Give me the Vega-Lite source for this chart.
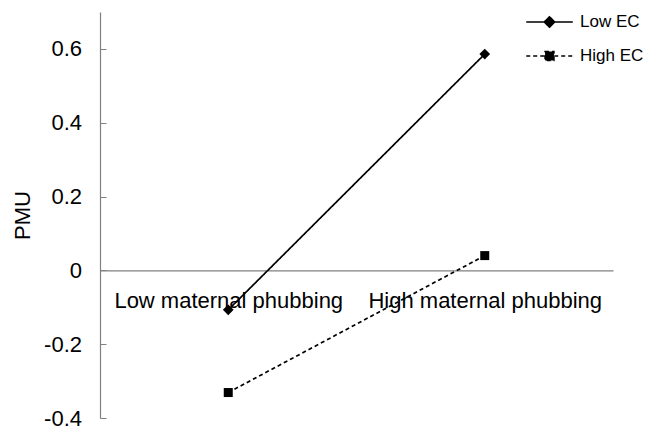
{
  "$schema": "https://vega.github.io/schema/vega-lite/v6.json",
  "width": 513,
  "height": 406,
  "autosize": "none",
  "padding": {"left": 100, "top": 12, "right": 33, "bottom": 12},
  "background": "white",
  "config": {
    "font": "Liberation Sans",
    "view": {"stroke": null}
  },
  "data": {
    "values": [
      {"phubbing": "Low maternal phubbing", "group": "Low EC", "PMU": -0.107},
      {"phubbing": "High maternal phubbing", "group": "Low EC", "PMU": 0.586},
      {"phubbing": "Low maternal phubbing", "group": "High EC", "PMU": -0.331},
      {"phubbing": "High maternal phubbing", "group": "High EC", "PMU": 0.04}
    ]
  },
  "encoding": {
    "x": {
      "field": "phubbing",
      "type": "nominal",
      "sort": ["Low maternal phubbing", "High maternal phubbing"],
      "scale": {"type": "point", "padding": 0.5},
      "axis": {
        "title": null,
        "orient": "bottom",
        "offset": -147.6,
        "ticks": false,
        "grid": false,
        "domainColor": "#808080",
        "domainWidth": 1.2,
        "labelAngle": 0,
        "labelLimit": 400,
        "labelFontSize": 22,
        "labelColor": "#000000",
        "labelBaseline": "alphabetic",
        "labelPadding": 37
      }
    },
    "y": {
      "field": "PMU",
      "type": "quantitative",
      "scale": {"domain": [-0.4, 0.7], "nice": false, "zero": false},
      "axis": {
        "title": "PMU",
        "values": [-0.4, -0.2, 0, 0.2, 0.4, 0.6],
        "labelExpr": "datum.value + ''",
        "grid": false,
        "domainColor": "#808080",
        "domainWidth": 1.2,
        "tickColor": "#808080",
        "tickSize": -6,
        "labelPadding": 24.5,
        "labelFontSize": 22,
        "labelColor": "#000000",
        "labelBaseline": "middle",
        "titleFontSize": 22,
        "titleFontWeight": "normal",
        "titleColor": "#000000",
        "titleAngle": -90,
        "titleBaseline": "middle",
        "titleAlign": "center",
        "titleX": -78,
        "titleY": 203
      }
    }
  },
  "layer": [
    {
      "mark": {"type": "line", "color": "#000000", "strokeWidth": 1.7},
      "encoding": {
        "strokeDash": {
          "field": "group",
          "type": "nominal",
          "scale": {"domain": ["Low EC", "High EC"], "range": [[1, 0], [4, 3]]},
          "legend": {
            "title": null,
            "orient": "none",
            "legendX": 432,
            "legendY": -7.5,
            "padding": 0,
            "rowPadding": 8,
            "symbolSize": 1089,
            "symbolStrokeWidth": 1.5,
            "symbolStrokeColor": "#000000",
            "symbolFillColor": "#000000",
            "labelFontSize": 17,
            "labelColor": "#000000",
            "labelOffset": 13,
            "labelBaseline": "middle",
            "encode": {
              "symbols": {
                "update": {
                  "shape": {"signal": "datum.value === 'Low EC' ? 'M-1.41,0H1.41M0,-0.32L0.32,0L0,0.32L-0.32,0Z' : 'M-1.41,0H1.41M-0.27,-0.27H0.27V0.27H-0.27Z'"},
                  "fill": {"value": "#000000"},
                  "stroke": {"value": "#000000"}
                }
              }
            }
          }
        }
      }
    },
    {
      "transform": [{"filter": "datum.group === 'Low EC'"}],
      "mark": {"type": "point", "shape": "diamond", "size": 115, "filled": true, "color": "#000000", "opacity": 1}
    },
    {
      "transform": [{"filter": "datum.group === 'High EC'"}],
      "mark": {"type": "point", "shape": "square", "size": 81, "filled": true, "color": "#000000", "opacity": 1}
    }
  ]
}
